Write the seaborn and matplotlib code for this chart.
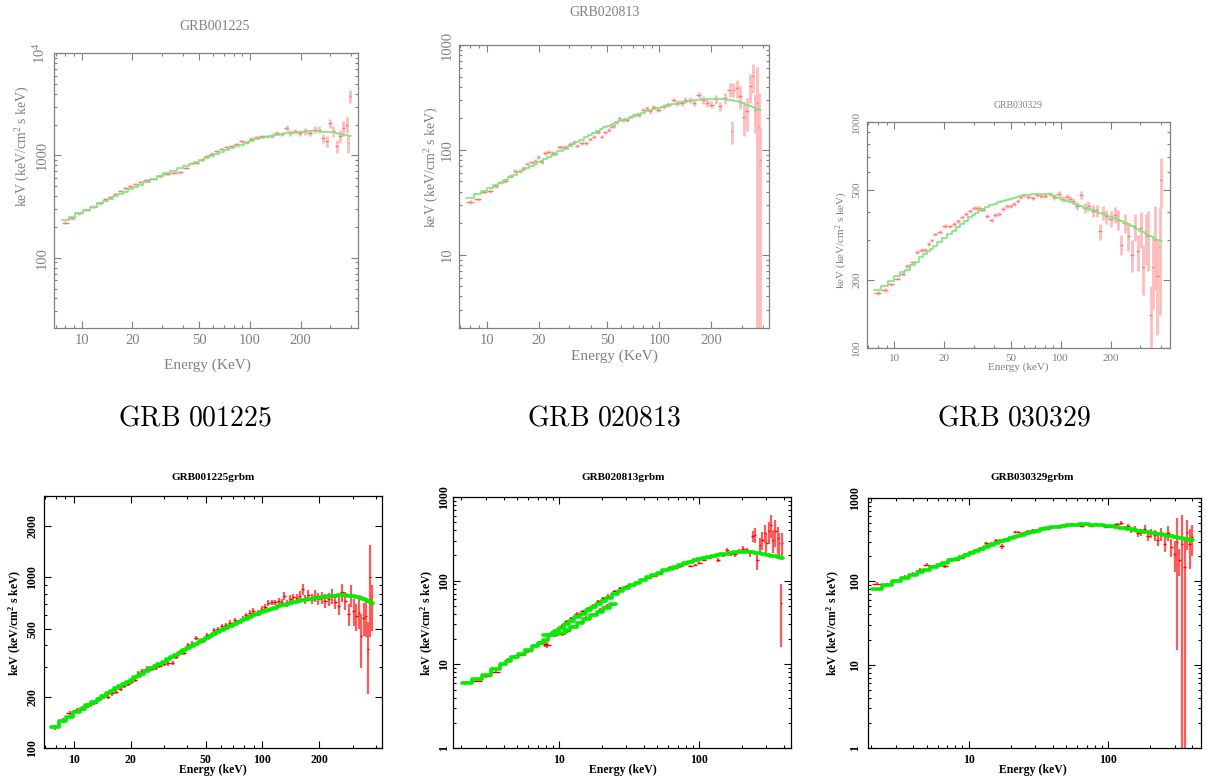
"""
Six GRB nuFnu spectra (HETE-2 style plots) laid out on one page.

Top row: grey PGPLOT-like panels, bottom row: bold "grbm" panels,
with big captions between the rows.
"""

import numpy as np
import matplotlib
matplotlib.use("Agg")
import matplotlib.pyplot as plt
import seaborn as sns
from matplotlib.ticker import FixedLocator, FixedFormatter, LogLocator, NullFormatter

W, H = 1207, 780

captions = ["GRB 001225", "GRB 020813", "GRB 030329"]
titles = ["GRB001225", "GRB020813", "GRB030329",
          "GRB001225grbm", "GRB020813grbm", "GRB030329grbm"]
xlabels = ["Energy (KeV)", "Energy (KeV)", "Energy (keV)",
           "Energy (keV)", "Energy (keV)", "Energy (keV)"]
ylabel = "keV (keV/cm$^2$ s keV)"

# --- GRB001225 (top) ---
e1 = [8.0, 8.7, 9.6, 10.7, 11.7, 12.9, 13.8, 14.7, 15.8, 16.9,
      18.1, 19.4, 20.8, 22.2, 24.3, 26.7, 29.2, 32.0, 35.1, 38.4,
      41.6, 45.1, 48.3, 51.7, 55.4, 59.4, 63.5, 68.0, 72.8, 77.9,
      83.5, 89.4, 95.7, 102, 110, 117, 126, 135, 144, 154,
      165, 173, 185, 198, 212, 227, 243, 258, 273, 285,
      298, 312, 327, 342, 358, 375, 384, 392]
f1 = [220, 243, 272, 293, 316, 341, 373, 390, 417, 449,
      478, 497, 524, 548, 577, 590, 622, 661, 676, 681,
      751, 841, 841, 907, 978, 1038, 1094, 1153, 1197, 1226,
      1291, 1371, 1341, 1446, 1501, 1536, 1536, 1558, 1655, 1619,
      1853, 1655, 1718, 1655, 1718, 1655, 1785, 1785, 1479, 1371,
      2074, 1718, 1226, 1536, 1853, 2000, 1320, 3785]
m1 = [234, 250, 272, 295, 316, 340, 358, 376, 398, 420,
      442, 466, 492, 516, 550, 588, 625, 668, 708, 750,
      790, 832, 870, 908, 950, 993, 1036, 1082, 1128, 1175,
      1225, 1275, 1325, 1380, 1430, 1470, 1515, 1555, 1590, 1620,
      1648, 1665, 1685, 1698, 1708, 1714, 1716, 1712, 1705, 1697,
      1688, 1676, 1662, 1620, 1595, 1570, 1555, 1540]
r1 = [.03, .03, .03, .03, .03, .03, .03, .03, .03, .03,
      .03, .03, .03, .03, .03, .03, .03, .03, .03, .03,
      .03, .03, .03, .03, .03, .03, .03, .03, .03, .03,
      .03, .03, .04, .04, .04, .04, .04, .05, .05, .05,
      .07, .06, .06, .06, .07, .07, .08, .08, .10, .12,
      .10, .12, .14, .14, .16, .18, .20, .15]

# --- GRB020813 (top) ---
e2 = [8.0, 8.9, 9.6, 10.4, 11.3, 11.9, 12.8, 13.6, 14.6, 15.5,
      16.3, 17.1, 18.2, 19.1, 19.9, 20.8, 21.8, 22.7, 24.3, 26.6,
      28.4, 30.4, 31.8, 33.2, 35.4, 37.6, 39.6, 41.8, 44.3, 46.3,
      48.5, 50.7, 52.3, 54.2, 56.7, 58.6, 61.3, 64.7, 68.5, 72.2,
      76.6, 80.3, 84.3, 88.1, 92.2, 98.7, 105.6, 112.8, 120.7, 126,
      135, 141, 149.5, 157.7, 168.5, 178.4, 187.6, 200, 212, 224,
      239, 256, 262, 268, 280, 293, 307, 321, 336, 350,
      358, 367, 375, 384]
f2 = [32, 33.7, 40, 40.8, 45.2, 49, 50.5, 56.8, 63, 63,
      66.8, 74, 76, 79, 86, 77, 93, 95, 94, 106,
      107, 114, 120, 110, 116, 116, 126, 134, 147, 134,
      147, 155, 167, 170, 183, 200, 194, 194, 208, 213,
      216, 242, 250, 233, 256, 242, 260, 270, 300, 280,
      280, 300, 300, 280, 336, 300, 280, 270, 305, 260,
      312, 375, 150, 375, 390, 324, 208, 233, 404, 502,
      242, 280, 167, 80]
m2 = [34.5, 37.7, 40.2, 43, 46.5, 48.5, 51.5, 54.5, 58, 61,
      63.8, 66.5, 70.2, 73.2, 75.8, 78.8, 82, 85, 90, 97.5,
      103, 109.5, 114, 118.5, 125.5, 132, 138, 144.5, 152, 157.5,
      163.5, 168.5, 172.5, 177, 182.5, 186.5, 192, 199, 206, 213,
      220.5, 226.5, 232.5, 238, 243, 251, 258, 265, 272, 276,
      283, 287, 292, 296, 300, 303, 305, 306.5, 307, 306.5,
      304, 299, 297, 295, 290, 284, 277, 270, 262, 255,
      251, 247, 244, 241]
r2 = [.04, .04, .04, .04, .04, .04, .04, .04, .04, .04,
      .04, .04, .04, .04, .04, .04, .04, .04, .04, .04,
      .04, .04, .04, .04, .04, .04, .04, .04, .04, .04,
      .04, .04, .04, .04, .04, .04, .04, .04, .04, .04,
      .04, .04, .04, .05, .05, .05, .05, .05, .05, .06,
      .06, .06, .06, .07, .07, .08, .08, .08, .10, .10,
      .12, .15, .25, .15, .20, .25, .35, .35, .30, .30,
      .40, 1.2, 1.1, 1.05]

# --- GRB030329 (top) ---
e3 = [7.94, 8.8, 9.55, 10.5, 11.3, 12.0, 12.9, 13.7, 14.6, 15.3,
      16.1, 16.8, 17.6, 18.7, 20.2, 21.5, 22.7, 24.0, 25.5, 27.0,
      28.6, 30.0, 31.3, 32.5, 34.0, 36.0, 38.5, 40.3, 42.8, 45.3,
      47.8, 50.1, 52.5, 55, 57.5, 60.3, 64.0, 68.0, 71.8, 75.9,
      80.6, 85.6, 91.4, 97, 103, 109, 114, 119, 125, 133,
      140, 146.5, 155.5, 164, 172, 180, 188, 199, 211, 222,
      230, 243, 254, 269, 279, 290, 302, 313, 325, 335,
      347, 357, 369, 381, 392, 401]
f3 = [175, 180, 191, 203, 213, 231, 239, 265, 272, 271,
      289, 299, 318, 325, 347, 345, 355, 364, 378, 392,
      403, 417, 417, 417, 410, 385, 370, 389, 390, 412,
      424, 426, 435, 447, 466, 477, 466, 461, 477, 472,
      470, 482, 466, 482, 456, 466, 456, 447, 426, 477,
      417, 426, 403, 406, 328, 396, 382, 373, 389, 370,
      287, 357, 312, 259, 345, 268, 339, 229, 312, 312,
      140, 229, 302, 208, 281, 556]
m3 = [180, 188, 198, 208, 216, 222, 232, 241, 252, 260,
      268, 275, 283, 294, 308, 320, 330, 342, 354, 366,
      378, 388, 397, 405, 414, 420, 428, 434, 441, 447,
      452, 457, 462, 466, 470, 473, 476, 479, 481, 482,
      482, 480, 470, 460, 452, 446, 441, 436, 430, 424,
      418, 413, 406, 400, 395, 390, 386, 381, 375, 369,
      365, 358, 353, 346, 341, 336, 330, 326, 321, 317,
      313, 309, 305, 302, 299, 297]
r3 = [.02, .02, .02, .02, .02, .02, .02, .02, .02, .02,
      .02, .02, .02, .02, .02, .02, .02, .02, .02, .02,
      .02, .02, .02, .02, .02, .02, .02, .02, .02, .02,
      .02, .02, .02, .02, .02, .02, .02, .02, .02, .02,
      .02, .02, .03, .03, .03, .03, .03, .03, .04, .04,
      .05, .05, .06, .06, .08, .07, .07, .08, .08, .10,
      .10, .10, .14, .16, .14, .18, .18, .25, .25, .30,
      .35, .35, .40, .45, .50, .25]

# --- GRB001225grbm ---
e4 = [7.93, 8.78, 9.5, 10.4, 11.1, 11.9, 12.8, 13.6, 14.4, 15.2,
      16.0, 16.8, 17.7, 18.5, 19.4, 20.2, 21.1, 22.0, 23.1, 24.3,
      25.9, 27.1, 28.4, 30.0, 31.7, 33.4, 34.8, 36.6, 38.4, 40.5,
      42.1, 44.4, 46.3, 48.6, 50.6, 53.2, 55.4, 58.4, 60.9, 64.1,
      67.3, 71.5, 74.5, 78.6, 81.9, 86.0, 89.5, 94.1, 99.2, 103.3,
      107.6, 112.1, 116.7, 121.6, 126.6, 130.8, 134.6, 140.2, 146, 152,
      158.4, 163.6, 168.3, 175.3, 182.6, 190.2, 198, 206, 215, 224,
      233, 243, 253, 264, 275, 286, 295, 304, 314, 324,
      333, 344, 355, 362, 372, 380]
f4 = [132, 145, 161, 167, 170, 178, 184, 194, 201, 199,
      209, 214, 222, 231, 238, 243, 252, 276, 282, 292,
      292, 295, 302, 310, 313, 316, 343, 365, 362, 402,
      409, 440, 424, 424, 458, 454, 490, 497, 520, 525,
      544, 561, 550, 574, 600, 622, 637, 622, 651, 672,
      706, 713, 713, 729, 722, 780, 706, 746, 763, 757,
      780, 853, 746, 787, 746, 780, 746, 757, 729, 746,
      780, 722, 681, 817, 729, 608, 787, 637, 595, 622,
      454, 582, 595, 379, 1000, 697]
m4 = [133, 143, 152, 163, 170, 178, 187, 195, 202, 210,
      217, 224, 231, 238, 245, 252, 259, 265, 273, 282,
      293, 301, 310, 320, 331, 342, 351, 362, 373, 386,
      395, 408, 419, 432, 442, 455, 466, 480, 491, 505,
      519, 536, 547, 562, 573, 587, 598, 612, 626, 637,
      647, 657, 666, 676, 685, 692, 698, 706, 714, 721,
      728, 733, 738, 744, 750, 756, 761, 766, 771, 775,
      779, 782, 785, 787, 786, 783, 779, 775, 770, 764,
      757, 748, 738, 730, 720, 712]
r4 = [.03, .03, .03, .03, .03, .03, .03, .03, .03, .03,
      .03, .03, .03, .03, .03, .03, .03, .03, .03, .03,
      .03, .03, .03, .03, .03, .03, .03, .03, .03, .03,
      .03, .03, .03, .03, .03, .03, .03, .03, .03, .03,
      .03, .03, .03, .03, .03, .03, .04, .04, .04, .04,
      .04, .04, .04, .04, .04, .05, .05, .05, .05, .06,
      .06, .07, .06, .07, .07, .08, .08, .08, .09, .09,
      .10, .10, .12, .12, .12, .15, .15, .18, .18, .20,
      .35, .22, .25, .45, .55, .30]

# --- GRB020813grbm (main track + second instrument) ---
e5 = [2.2, 2.6, 3.0, 3.5, 4.0, 4.3, 4.8, 5.4, 6.0, 6.7,
      7.3, 7.9, 8.8, 9.6, 10.4, 11.3, 12.2, 13.4, 14.7, 16.1,
      17.5, 19.0, 20.6, 22.4, 25, 27.1, 30.3, 32.9, 36.1, 39.4,
      43.2, 47.4, 51.8, 56.9, 61.7, 67, 72.6, 78.9, 85.7, 93,
      100, 108, 116, 125, 136, 146, 156, 167, 180, 192,
      206, 218, 230, 240, 249, 259, 270, 281, 292, 300,
      312, 325, 337, 348, 362, 371, 381, 391]
f5 = [6.1, 6.4, 7.2, 8.1, 10.2, 11.6, 12.3, 13.1, 14.3, 16.7,
      18, 17.5, 23.7, 26, 29, 32.7, 35.8, 40.3, 43, 47,
      50, 56.6, 62, 66, 74.6, 81.7, 85.5, 89.6, 95.5, 103,
      108, 113, 120, 135, 146, 141, 148, 160, 151, 155,
      163, 178, 187, 195, 178, 204, 234, 208, 208, 224,
      239, 230, 214, 339, 355, 178, 270, 309, 371, 282,
      389, 467, 309, 389, 324, 282, 54, 282]
m5 = [6.0, 6.6, 7.5, 8.7, 10.1, 10.9, 12.1, 13.4, 14.9, 16.5,
      18.0, 19.4, 22.6, 25.0, 27.5, 30.2, 33.0, 36.7, 40.5, 44.5,
      48.4, 52.7, 57.0, 61.8, 69, 74.5, 82, 88, 95, 102,
      109.5, 117, 124.5, 132.5, 139.5, 146.5, 153.5, 160.5, 167.5, 174.5,
      180.5, 186.5, 192, 197.5, 203, 207.5, 211, 214.5, 217.5, 219.5,
      220.5, 220.5, 219.5, 218, 216.5, 214.5, 212, 209.5, 207, 205,
      202, 199, 196.5, 194.5, 192, 190.5, 189, 187.5]
r5 = [.04, .04, .04, .04, .04, .04, .04, .04, .04, .04,
      .05, .08, .05, .04, .04, .04, .04, .04, .04, .04,
      .04, .04, .04, .04, .03, .03, .03, .03, .03, .03,
      .03, .03, .03, .03, .03, .03, .03, .03, .03, .03,
      .04, .04, .04, .05, .05, .06, .06, .06, .07, .07,
      .08, .08, .10, .15, .20, .25, .20, .25, .25, .30,
      .30, .30, .30, .35, .35, .30, .70, .30]
e5b = [8.2, 9.3, 10.4, 11.4, 12.6, 14.0, 15.6, 17.5, 19.5, 21.8, 24.0]
f5b = [17.0, 22.5, 23.2, 24.8, 28.5, 31.7, 35.8, 39.3, 45, 50, 52]
m5b = [22.5, 23.0, 24.0, 25.8, 28.2, 31.0, 34.4, 38.4, 42.8, 47.6, 52.5]
r5b = [.08, .05, .05, .05, .05, .05, .05, .05, .05, .05, .05]

# --- GRB030329grbm ---
e6 = [2.2, 2.6, 3.06, 3.5, 4.0, 4.5, 5.0, 5.6, 6.2, 6.8,
      7.5, 8.1, 8.9, 9.6, 10.4, 11.3, 12.3, 13.4, 14.5, 15.8,
      17.4, 18.6, 20.2, 21.4, 22.6, 24.5, 26.6, 28.9, 31.4, 34,
      37, 40.3, 43.8, 47.6, 51.7, 55.4, 59.2, 64.3, 70, 76,
      82.5, 89.5, 97.3, 105.7, 115, 123, 131, 139, 147, 155,
      164, 173, 183, 193, 204, 216, 227, 240, 254, 268,
      283, 299, 312, 324, 338, 353, 367, 383, 400]
f6 = [94, 91, 101, 113, 124, 138, 158, 151, 160, 151,
      184, 182, 192, 211, 225, 235, 247, 288, 283, 310,
      263, 316, 340, 391, 391, 380, 398, 417, 417, 433,
      429, 449, 461, 470, 470, 492, 470, 457, 492, 461,
      483, 470, 449, 457, 483, 506, 441, 457, 409, 429,
      380, 391, 429, 347, 380, 356, 310, 373, 283, 380,
      258, 215, 297, 179, 283, 149, 391, 283, 340]
m6 = [82, 90, 100, 109, 119, 128, 137, 148, 158, 168,
      178, 187, 198, 209, 220, 232, 245, 258, 271, 285,
      301, 313, 327, 338, 348, 362, 377, 392, 406, 419,
      432, 444, 454, 462, 469, 474, 478, 481, 482, 480,
      476, 470, 463, 457, 451, 442, 434, 427, 420, 414,
      407, 401, 394, 388, 382, 376, 371, 365, 359, 353,
      347, 341, 336, 332, 328, 323, 319, 315, 310]
r6 = [.05, .04, .04, .04, .04, .04, .04, .04, .04, .04,
      .04, .04, .04, .04, .04, .04, .04, .04, .04, .04,
      .06, .04, .04, .04, .04, .03, .03, .03, .03, .03,
      .03, .03, .03, .03, .03, .03, .03, .03, .03, .03,
      .03, .03, .03, .04, .04, .05, .05, .06, .08, .08,
      .10, .10, .10, .12, .12, .15, .15, .18, .20, .20,
      .25, .40, .95, .35, 1.2, 1.2, .40, .50, .40]

# axis ticks / labels per panel
xt_a = [10, 20, 50, 100, 200]
xt_b = [10, 100]
yt = [[100, 1000, 10000], [10, 100, 1000], [100, 200, 500, 1000],
      [100, 200, 500, 1000, 2000], [1, 10, 100, 1000], [1, 10, 100, 1000]]
ytl = [["100", "1000", "10$^4$"], ["10", "100", "1000"],
       ["100", "200", "500", "1000"], ["100", "200", "500", "1000", "2000"],
       ["1", "10", "100", "1000"], ["1", "10", "100", "1000"]]

sns.set_style("ticks")
plt.rcParams["mathtext.default"] = "regular"

GREY = "#808080"
TOP = dict(err="#ffbcbc", elw=2.0, pt="#ff7a7a", model="#7ee67e", mlw=1.2)
BOT = dict(err="#ff5a5a", elw=1.6, pt="#ff0000", model="#00ee00", mlw=2.6)


def px(x, y):
    return x / W, 1 - y / H


def edges(e):
    e = np.asarray(e, float)
    mid = np.sqrt(e[1:] * e[:-1])
    lo = np.r_[e[0] ** 2 / mid[0], mid]
    hi = np.r_[mid, e[-1] ** 2 / mid[-1]]
    return lo, hi


def draw_spectrum(ax, e, f, m, r, st):
    e = np.asarray(e, float)
    f = np.asarray(f, float)
    err = np.asarray(r) * f
    lo, hi = edges(e)
    ax.errorbar(e, f, yerr=[np.minimum(err, 0.999 * f), err], fmt="none",
                ecolor=st["err"], elinewidth=st["elw"], zorder=2)
    ax.errorbar(e, f, xerr=[e - lo, hi - e], fmt="none",
                ecolor=st["pt"], elinewidth=1.0, zorder=3)
    sns.lineplot(x=np.r_[lo, hi[-1]], y=np.r_[m, m[-1]], ax=ax,
                 drawstyle="steps-post", color=st["model"], lw=st["mlw"],
                 estimator=None, sort=False, legend=False, zorder=4)


def make_axes(rect, xlim, ylim, xticks, yticks, yticklabels, color, fs, weight, pad):
    x0, y0, x1, y1 = rect
    ax = fig.add_axes([x0 / W, 1 - y1 / H, (x1 - x0) / W, (y1 - y0) / H])
    ax.set_xscale("log")
    ax.set_yscale("log")
    ax.set_xlim(*xlim)
    ax.set_ylim(*ylim)
    ax.xaxis.set_major_locator(FixedLocator(xticks))
    ax.xaxis.set_major_formatter(FixedFormatter([str(t) for t in xticks]))
    ax.xaxis.set_minor_locator(LogLocator(base=10, subs=np.arange(1, 10)))
    ax.xaxis.set_minor_formatter(NullFormatter())
    ax.yaxis.set_major_locator(FixedLocator(yticks))
    ax.yaxis.set_major_formatter(FixedFormatter(yticklabels))
    ax.yaxis.set_minor_locator(LogLocator(base=10, subs=np.arange(1, 10)))
    ax.yaxis.set_minor_formatter(NullFormatter())
    ax.tick_params(which="both", direction="in", top=True, right=True,
                   color=color, labelcolor=color, labelsize=fs, width=0.8)
    ax.tick_params(which="major", length=5)
    ax.tick_params(which="minor", length=2.5)
    ax.tick_params(axis="x", which="major", pad=4)
    ax.tick_params(axis="y", which="major", pad=pad)
    for lab in ax.get_xticklabels() + ax.get_yticklabels():
        lab.set_family("Liberation Serif")
        lab.set_fontweight(weight)
    for lab in ax.get_yticklabels():
        lab.set_rotation(90)
        lab.set_va("center")
    for s in ax.spines.values():
        s.set_color(color)
        s.set_linewidth(0.9)
    ax.grid(False)
    return ax


fig = plt.figure(figsize=(W / 100, H / 100), dpi=100)

panels = [
    dict(rect=(54, 53, 358, 328), xlim=(6.84, 438), ylim=(20.6, 1e4), xt=xt_a,
         data=[(e1, f1, m1, r1)], st=TOP, color=GREY, fs=10.5, w="normal", pad=4,
         title=(215, 27, 10), xl=(207, 365, 11), yl=(23, 146, 10)),
    dict(rect=(459, 45, 769, 328), xlim=(6.9, 431), ylim=(2, 1000), xt=xt_a,
         data=[(e2, f2, m2, r2)], st=TOP, color=GREY, fs=10.5, w="normal", pad=4,
         title=(605, 12, 10), xl=(614, 356, 11), yl=(432, 167, 10)),
    dict(rect=(867, 122, 1170, 348), xlim=(6.86, 453), ylim=(100, 1000), xt=xt_a,
         data=[(e3, f3, m3, r3)], st=TOP, color=GREY, fs=8, w="normal", pad=4,
         title=(1018, 105, 7), xl=(1018, 367, 8), yl=(842, 240, 8)),
    dict(rect=(44, 496, 382, 748), xlim=(6.95, 430), ylim=(100, 3000), xt=xt_a,
         data=[(e4, f4, m4, r4)], st=BOT, color="black", fs=8.5, w="bold", pad=4,
         title=(213, 477, 8), xl=(213, 770, 8.5), yl=(15, 623, 8.5)),
    dict(rect=(453, 497, 791, 748), xlim=(1.74, 450), ylim=(1, 1000), xt=xt_b,
         data=[(e5, f5, m5, r5), (e5b, f5b, m5b, r5b)], st=BOT, color="black",
         fs=8.5, w="bold", pad=2,
         title=(623, 477, 8), xl=(623, 770, 8.5), yl=(427, 623, 8.5)),
    dict(rect=(868, 498, 1201, 748), xlim=(1.9, 463), ylim=(1, 1000), xt=xt_b,
         data=[(e6, f6, m6, r6)], st=BOT, color="black", fs=8.5, w="bold", pad=5,
         title=(1032, 477, 8), xl=(1033, 770, 8.5), yl=(833, 623, 8.5)),
]

for i, p in enumerate(panels):
    ax = make_axes(p["rect"], p["xlim"], p["ylim"], p["xt"], yt[i], ytl[i],
                   p["color"], p["fs"], p["w"], p["pad"])
    for e, f, m, r in p["data"]:
        draw_spectrum(ax, e, f, m, r, p["st"])
    ax.set_xlim(*p["xlim"])
    ax.set_ylim(*p["ylim"])
    ax.set_xlabel("")
    ax.set_ylabel("")
    txt = dict(color=p["color"], family="Liberation Serif", fontweight=p["w"],
               ha="center", va="center")
    x, y, s = p["title"]
    fig.text(*px(x, y), titles[i], fontsize=s, **txt)
    x, y, s = p["xl"]
    fig.text(*px(x, y), xlabels[i], fontsize=s, **txt)
    x, y, s = p["yl"]
    fig.text(*px(x, y), ylabel, fontsize=s, rotation=90, **txt)

plt.rcParams["mathtext.fontset"] = "cm"
for x, cap in zip([195, 604, 1014], captions):
    fig.text(*px(x, 417), r"$\mathrm{" + cap.replace(" ", r"\ ") + "}$",
             fontsize=20, ha="center", va="center", color="black")

fig.savefig("out.png", dpi=100)
